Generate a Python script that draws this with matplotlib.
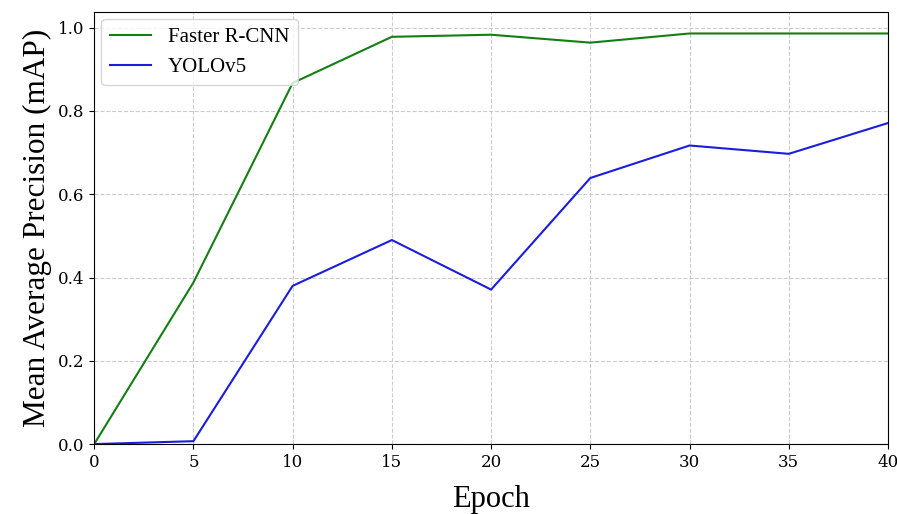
import matplotlib.pyplot as plt

epochs = [0, 5, 10, 15, 20, 25, 30, 35, 40]
faster_rcnn = [0.0, 0.388, 0.867, 0.978, 0.983, 0.964, 0.986, 0.986, 0.986]
yolov5 = [0.0, 0.007, 0.38, 0.49, 0.371, 0.639, 0.717, 0.697, 0.771]

fig = plt.figure(figsize=(8.97, 5.14), dpi=100)
ax = fig.add_axes([0.105, 0.136, 0.885, 0.841])

ax.plot(epochs, faster_rcnn, color='#137f13', linewidth=1.5, label='Faster R-CNN')
ax.plot(epochs, yolov5, color='#1c1cdc', linewidth=1.5, label='YOLOv5')

ax.set_xlim(0, 40)
ax.set_ylim(0, 1.038)
ax.set_xticks(range(0, 41, 5))
ax.set_yticks([0.0, 0.2, 0.4, 0.6, 0.8, 1.0])
ax.grid(True, linestyle='--', color='#cccccc', linewidth=0.8)

for lab in ax.get_xticklabels() + ax.get_yticklabels():
    lab.set_family('DejaVu Serif')
    lab.set_fontsize(12)

ax.set_xlabel('Epoch', fontsize=22, family='Liberation Serif', labelpad=10)
ax.set_ylabel('Mean Average Precision (mAP)', fontsize=22.5, family='Liberation Serif')
ax.legend(loc='upper left', prop={'family': 'Liberation Serif', 'size': 15},
          borderaxespad=0.35)

fig.savefig('out.png', dpi=100)
